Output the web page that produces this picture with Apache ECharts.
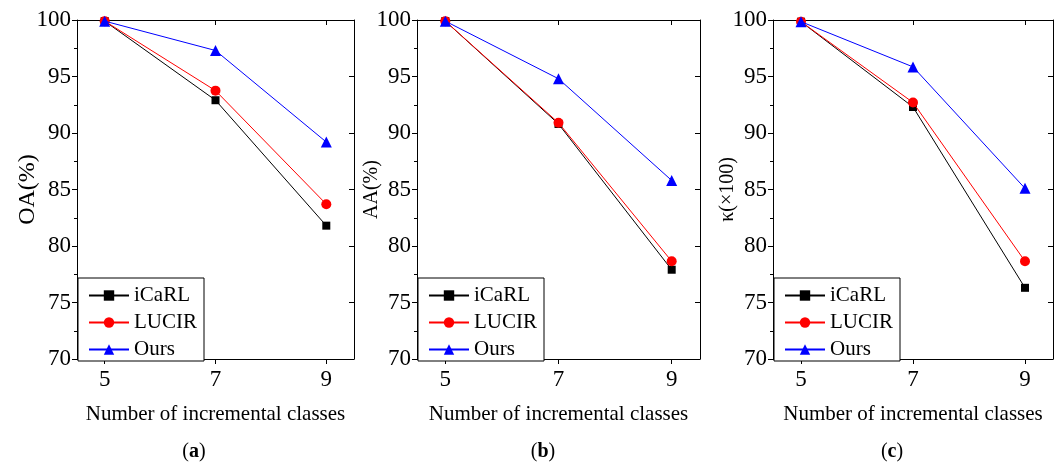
<!DOCTYPE html>
<html><head><meta charset="utf-8">
<script src="https://cdn.jsdelivr.net/npm/echarts@6/dist/echarts.min.js"></script>
<style>html,body{margin:0;padding:0;background:#fff}#c{width:1061px;height:463px}</style>
</head><body><div id="c"></div>
<script>
// ---- data ----
const xValues = [5, 7, 9];
const xTickValues = [5, 7, 9];
const seriesNames = ['iCaRL', 'LUCIR', 'Ours'];
const oaICaRL = [99.9, 92.9, 81.8];
const oaLUCIR = [99.9, 93.75, 83.7];
const oaOurs  = [99.9, 97.3, 89.2];
const aaICaRL = [99.9, 90.8, 77.9];
const aaLUCIR = [99.9, 90.9, 78.65];
const aaOurs  = [99.9, 94.8, 85.8];
const kICaRL  = [99.85, 92.3, 76.3];
const kLUCIR  = [99.85, 92.7, 78.65];
const kOurs   = [99.85, 95.85, 85.1];
const yNames = ['OA(%)', 'AA(%)', 'κ(×100)'];
const xName = 'Number of incremental classes';
const captions = ['a', 'b', 'c'];
// --------------

const FONT = "'Liberation Serif','Times New Roman',serif";
const panels = [
  [oaICaRL, oaLUCIR, oaOurs],
  [aaICaRL, aaLUCIR, aaOurs],
  [kICaRL, kLUCIR, kOurs]
];
const grids = [
  {left: 77, top: 20, width: 277, height: 339},
  {left: 417, top: 20, width: 283, height: 339},
  {left: 773, top: 20, width: 280, height: 339}
];
const yNameGap = [37, 35, 35];
const yNameSize = [24, 20, 20];
const colors = ['#000000', '#ff0000', '#0000ff'];
const symbols = ['rect', 'circle', 'triangle'];
const symSizes = [8, 10, 11];
const lineStyleAx = {color: '#000', width: 1};

const xAxes = [], yAxes = [], series = [], legends = [], graphics = [];
grids.forEach((g, i) => {
  xAxes.push({
    type: 'value', gridIndex: i, position: 'bottom', min: 4.5, max: 9.5,
    axisLine: {show: true, onZero: false, lineStyle: lineStyleAx},
    axisTick: {show: true, inside: false, length: 5, customValues: xTickValues, lineStyle: lineStyleAx},
    axisLabel: {show: true, customValues: xTickValues, margin: 9, color: '#000', fontSize: 23, fontFamily: FONT},
    splitLine: {show: false},
    name: xName, nameLocation: 'middle', nameGap: 45,
    nameTextStyle: {color: '#000', fontSize: 21, fontFamily: FONT}
  });
  xAxes.push({
    type: 'value', gridIndex: i, position: 'top', min: 4.5, max: 9.5,
    axisLine: {show: true, onZero: false, lineStyle: lineStyleAx},
    axisTick: {show: true, inside: true, length: 5, customValues: xTickValues, lineStyle: lineStyleAx},
    axisLabel: {show: false},
    splitLine: {show: false}
  });
  yAxes.push({
    type: 'value', gridIndex: i, position: 'left', min: 70, max: 100, interval: 5,
    axisLine: {show: true, onZero: false, lineStyle: lineStyleAx},
    axisTick: {show: true, inside: false, length: 5, lineStyle: lineStyleAx},
    minorTick: {show: true, splitNumber: 2, length: 3, lineStyle: {color: '#000', width: 1}},
    axisLabel: {show: true, margin: 6, color: '#000', fontSize: 23, fontFamily: FONT},
    splitLine: {show: false},
    name: yNames[i], nameLocation: 'middle', nameGap: yNameGap[i], nameRotate: 90,
    nameMoveOverlap: false,
    nameTextStyle: {color: '#000', fontSize: yNameSize[i], fontFamily: FONT}
  });
  yAxes.push({
    type: 'value', gridIndex: i, position: 'right', min: 70, max: 100, interval: 5,
    axisLine: {show: true, onZero: false, lineStyle: lineStyleAx},
    axisTick: {show: true, inside: true, length: 5, lineStyle: lineStyleAx},
    axisLabel: {show: false},
    splitLine: {show: false}
  });
  panels[i].forEach((vals, k) => {
    series.push({
      type: 'line', name: seriesNames[k], xAxisIndex: 2 * i, yAxisIndex: 2 * i,
      data: xValues.map((x, j) => [x, vals[j]]),
      symbol: symbols[k], symbolSize: symSizes[k], showAllSymbol: true,
      lineStyle: {color: colors[k], width: 1},
      itemStyle: {color: colors[k]},
      z: 3 + k, animation: false
    });
  });
  legends.push({
    orient: 'vertical', left: g.left + 1, top: 278,
    data: seriesNames,
    itemWidth: 40, itemHeight: 13, itemGap: 6,
    padding: [7, 7, 1, 10],
    borderColor: '#000', borderWidth: 1, backgroundColor: '#fff',
    textStyle: {color: '#000', fontSize: 21, lineHeight: 20, fontFamily: FONT},
    selectedMode: false
  });
  graphics.push({
    type: 'text', x: [194, 543, 892][i], y: 452,
    style: {
      text: '{p|(}{b|' + captions[i] + '}{p|)}', align: 'center', verticalAlign: 'middle',
      rich: {
        p: {fontSize: 20, fontFamily: FONT, fill: '#000'},
        b: {fontSize: 20, fontFamily: FONT, fontWeight: 'bold', fill: '#000'}
      }
    }
  });
});

const chart = echarts.init(document.getElementById('c'), null, {renderer: 'canvas'});
chart.setOption({
  animation: false,
  backgroundColor: '#fff',
  grid: grids,
  xAxis: xAxes,
  yAxis: yAxes,
  legend: legends,
  series: series,
  graphic: graphics
});
</script>
</body></html>
